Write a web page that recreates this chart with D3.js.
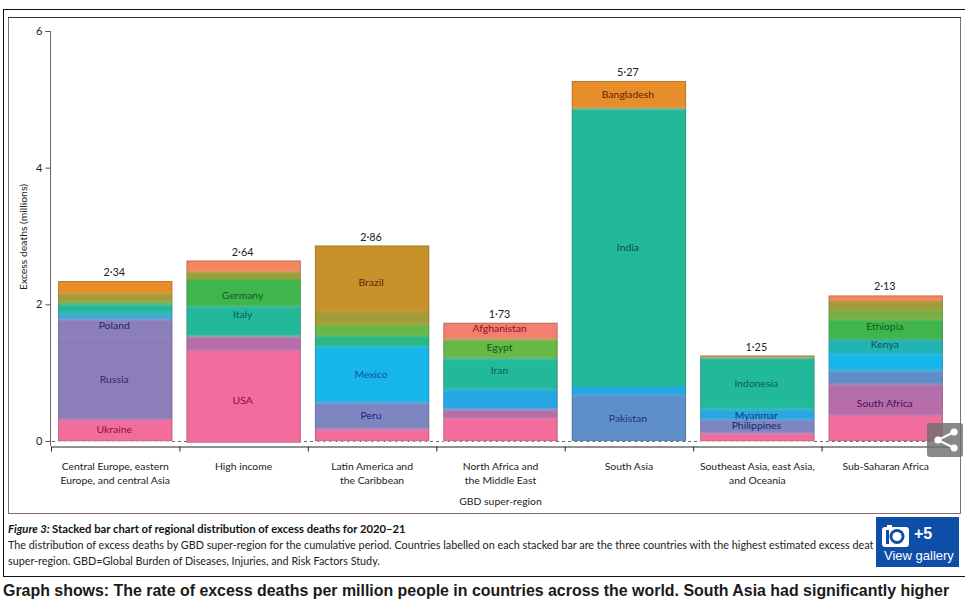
<!DOCTYPE html>
<html><head><meta charset="utf-8">
<script src="https://cdn.jsdelivr.net/npm/d3@7/dist/d3.min.js"></script>
<style>html,body{margin:0;padding:0;background:#fff;overflow:hidden}svg{display:block}</style>
</head><body><svg id="c" width="965" height="605"></svg>
<script>
const categories = [["Central Europe, eastern","Europe, and central Asia"],["High income"],["Latin America and","the Caribbean"],["North Africa and","the Middle East"],["South Asia"],["Southeast Asia, east Asia,","and Oceania"],["Sub-Saharan Africa"]];
const totals = [2.34,2.64,2.86,1.73,5.27,1.25,2.13];
const yTicks = [0,2,4,6];

// segment sizes, bottom to top (millions)
const centralEurope = [0.31,1.21,0.26,0.09,0.13,0.04,0.12,0.18];
const highIncome    = [1.32,0.21,0.44,0.40,0.11,0.16];
const latinAmerica  = [0.17,0.39,0.82,0.16,0.16,0.19,0.97];
const northAfrica   = [0.33,0.13,0.29,0.46,0.28,0.24];
const southAsia     = [0.67,0.12,4.08,0.40];
const southeastAsia = [0.11,0.20,0.15,0.76,0.02,0.01];
const subSaharan    = [0.37,0.46,0.20,0.24,0.21,0.30,0.15,0.12,0.08];
const segments = [centralEurope,highIncome,latinAmerica,northAfrica,southAsia,southeastAsia,subSaharan];

const centralLabels = ["Ukraine","Russia","Poland","","","","",""];
const highLabels    = ["USA","","Italy","Germany","",""];
const latinLabels   = ["","Peru","Mexico","","","","Brazil"];
const naLabels      = ["","","","Iran","Egypt","Afghanistan"];
const saLabels      = ["Pakistan","","India","Bangladesh"];
const seaLabels     = ["","Philippines","Myanmar","Indonesia","",""];
const ssaLabels     = ["","South Africa","","","Kenya","Ethiopia","","",""];
const segmentLabels = [centralLabels,highLabels,latinLabels,naLabels,saLabels,seaLabels,ssaLabels];

const P="#f26c9d",M="#b56ea9",V="#8c7fb9",W="#7e86c1",S="#5f8fc8",B="#27a7e3",C="#14b5ea",T="#23b99b",TG="#2bb685",G="#3fb54c",LG="#68b845",O="#a29b38",OB="#c8912a",OR="#e78e2b",CO="#f5845f",SA="#f47e70";
const palette = [
 [P,V,V,"#3aa9d8",T,"#62b050","#a89a38",OR],
 [P,M,T,G,"#9aa03a",CO],
 [P,W,C,TG,LG,O,OB],
 [P,M,B,T,LG,SA],
 [S,B,T,OR],
 [P,W,B,T,O,OR],
 [P,M,S,C,"#21b3b5",G,"#7cae42",O,CO]
];
const labelInk = {Ukraine:"#8f0f47",Russia:"#33256a",Poland:"#25256a",USA:"#80103a",Italy:"#0b5f52",Germany:"#0c5f27",Peru:"#1a2572",Mexico:"#135694",Brazil:"#5f280a",Iran:"#0b6357",Egypt:"#0b5f1e",Afghanistan:"#8f1212",Pakistan:"#1a3572",India:"#0a5043",Bangladesh:"#5f2508",Philippines:"#1a2572",Myanmar:"#163482",Indonesia:"#0b5f56","South Africa":"#500d58",Kenya:"#0b5258",Ethiopia:"#0b5f1e"};
const labelNudge = {Poland:-3,Italy:-7,Germany:3,Iran:-4,Egypt:-1,Afghanistan:-3,Ethiopia:-3,Kenya:-3,Myanmar:1,Philippines:-1,Ukraine:-1,USA:4,Peru:-1,Brazil:4,"South Africa":3,Russia:1};

const FONT='Lato, "Open Sans", sans-serif';
const SMALL=10.4;
const svg=d3.select("#c");
const y=d3.scaleLinear().domain([0,6]).range([441,31]);
const x=d3.scaleBand().domain(d3.range(categories.length)).range([51,950]).paddingInner(.11).paddingOuter(.055);
const xEdges=d3.scaleLinear().domain([0,categories.length]).range([51,950]);

// squeeze a text horizontally to a set width, from its left end
function fitWidth(sel,left,base,width){
  const natural=sel.node().getComputedTextLength();
  sel.attr("transform",`translate(${left},${base}) scale(${width/natural},1)`);
}

// frames
svg.append("rect").attr("x",3.5).attr("y",9.5).attr("width",970).attr("height",567).attr("fill","#fff").attr("stroke","#111");
svg.append("rect").attr("x",8.5).attr("y",17.5).attr("width",952).attr("height",496).attr("fill","#fff").attr("stroke","#8b6b72");
svg.append("line").attr("x1",8).attr("x2",961).attr("y1",17.5).attr("y2",17.5).attr("stroke","#333");

const defs=svg.append("defs");
defs.append("filter").attr("id","soft").attr("x","-2%").attr("y","-2%").attr("width","104%").attr("height","104%")
  .append("feGaussianBlur").attr("stdDeviation",1.2);

// dotted zero line, beneath the bars
svg.append("line").attr("x1",46).attr("x2",950).attr("y1",y(0)+.5).attr("y2",y(0)+.5)
  .attr("stroke","#666").attr("stroke-width",1.1).attr("stroke-dasharray","3 3");

// bars
const barG=svg.append("g");
segments.forEach((vals,i)=>{
  const stacked=d3.stack().keys(d3.range(vals.length))([vals]);
  const g=barG.append("g");
  const clipId="clip"+i;
  defs.append("clipPath").attr("id",clipId).append("rect").attr("x",x(i)).attr("width",x.bandwidth()).attr("y",y(totals[i])).attr("height",y(0)-y(totals[i])+(i==1?1.5:0));
  g.attr("clip-path",`url(#${clipId})`).append("g").attr("filter","url(#soft)")
   .selectAll("rect").data(stacked).join("rect")
   .attr("x",x(i)-4).attr("width",x.bandwidth()+8)
   .attr("y",(d,k)=>y(d[0][1])-(k==vals.length-1?4:0)).attr("height",(d,k)=>y(d[0][0])-y(d[0][1])+(k==0||k==vals.length-1?4:0))
   .attr("fill",(d,k)=>palette[i][k]);
  barG.append("rect").attr("x",x(i)+.5).attr("width",x.bandwidth()-1).attr("y",y(totals[i])+.5)
   .attr("height",y(0)-y(totals[i])-.5+(i==1?1.5:0)).attr("fill","none").attr("stroke","#555").attr("stroke-opacity",.35);
  if(i!=1) barG.append("line").attr("x1",x(i)).attr("x2",x(i)+x.bandwidth()).attr("y1",y(0)+.5).attr("y2",y(0)+.5)
   .attr("stroke","#fff").attr("stroke-opacity",.7).attr("stroke-dasharray","3 3");
});

// axes
const yAxis=d3.axisLeft(y).tickValues(yTicks).tickSize(5).tickPadding(3).tickFormat(d3.format("d"));
const gy=svg.append("g").attr("transform","translate(50.5,0)").call(yAxis);
gy.select(".domain").attr("stroke","#666").attr("d","M-5,31.5H0V446");
gy.selectAll(".tick line").attr("stroke","#555");
gy.selectAll("text").attr("font-family",FONT).attr("font-size",11).attr("fill","#222");
const xAxis=d3.axisBottom(xEdges).tickValues(d3.range(categories.length+1)).tickSize(5).tickSizeOuter(0).tickFormat("");
const gx=svg.append("g").attr("transform","translate(0,446.5)").call(xAxis);
gx.select(".domain").attr("stroke","#222");
gx.selectAll(".tick line").attr("stroke","#222");

// totals
svg.append("g").selectAll("text").data(totals).join("text")
  .attr("x",(d,i)=>x(i)+x.bandwidth()/2-1).attr("y",d=>y(d)-5).attr("text-anchor","middle")
  .attr("font-family",FONT).attr("font-size",10.8).attr("fill","#222")
  .text(d=>d3.format(".2f")(d).replace(".","·"));

// country labels
segments.forEach((vals,i)=>{
  let acc=0;
  vals.forEach((v,k)=>{
    const name=segmentLabels[i][k];
    if(name){
      svg.append("text").attr("x",x(i)+x.bandwidth()/2-1).attr("y",y(acc+v/2)+(labelNudge[name]||0))
       .attr("dy","0.35em").attr("text-anchor","middle").attr("font-family",FONT).attr("font-size",SMALL)
       .attr("fill",labelInk[name]).text(name);
    }
    acc+=v;
  });
});

// category labels
categories.forEach((lines,i)=>{
  lines.forEach((t,j)=>svg.append("text").attr("x",x(i)+x.bandwidth()/2).attr("y",470+j*14)
    .attr("text-anchor","middle").attr("font-family",FONT).attr("font-size",SMALL).attr("fill","#222").text(t));
});
svg.append("text").attr("x",xEdges(3.5)).attr("y",505).attr("text-anchor","middle").attr("font-family",FONT).attr("font-size",SMALL).attr("fill","#222").text("GBD super-region");
svg.append("text").attr("transform","translate(27,237) rotate(-90)").attr("text-anchor","middle").attr("font-family",FONT).attr("font-size",SMALL).attr("fill","#222").text("Excess deaths (millions)");

// caption
const cap=svg.append("text").attr("font-family",FONT).attr("font-size",12).attr("fill","#111");
cap.append("tspan").attr("font-style","italic").attr("font-weight",700).text("Figure 3: ");
cap.append("tspan").attr("font-weight",700).text("Stacked bar chart of regional distribution of excess deaths for 2020–21");
fitWidth(cap,8,533,398);
const cap2=svg.append("text").attr("font-family",FONT).attr("font-size",11.8).attr("fill","#222")
 .text("The distribution of excess deaths by GBD super-region for the cumulative period. Countries labelled on each stacked bar are the three countries with the highest estimated excess deat");
fitWidth(cap2,8,549,866);
const cap3=svg.append("text").attr("font-family",FONT).attr("font-size",11.8).attr("fill","#222")
 .text("super-region. GBD=Global Burden of Diseases, Injuries, and Risk Factors Study.");
fitWidth(cap3,8,565,372);

// gallery button
const gb=svg.append("g");
gb.append("rect").attr("x",876).attr("y",517).attr("width",83).attr("height",50).attr("fill","#0f4ea8");
gb.append("path").attr("d","M885 527h2v-2h5v2h14a3 3 0 0 1 3 3v14a3 3 0 0 1-3 3h-21a3 3 0 0 1-3-3v-14a3 3 0 0 1 3-3z").attr("fill","#fff");
gb.append("circle").attr("cx",897).attr("cy",536.5).attr("r",7.5).attr("fill","#0f4ea8");
gb.append("circle").attr("cx",897).attr("cy",536.5).attr("r",4.6).attr("fill","#fff");
gb.append("rect").attr("x",886).attr("y",530).attr("width",3).attr("height",14).attr("fill","#0f4ea8");
gb.append("text").attr("x",914).attr("y",539).attr("font-family","'Liberation Sans',Arial,sans-serif").attr("font-weight",700).attr("font-size",16).attr("fill","#fff").text("+5");
gb.append("text").attr("x",884).attr("y",560).attr("font-family","'Liberation Sans',Arial,sans-serif").attr("font-size",13).attr("fill","#fff").text("View gallery");

// share button
const sb=svg.append("g");
sb.append("rect").attr("x",927).attr("y",423).attr("width",36).attr("height",34).attr("rx",3).attr("fill","#6f6f6f").attr("fill-opacity",.82);
sb.append("path").attr("d","M954 432L938 440L954 448").attr("fill","none").attr("stroke","#fff").attr("stroke-width",2);
[[954,432],[938,440],[954,448]].forEach(p=>sb.append("circle").attr("cx",p[0]).attr("cy",p[1]).attr("r",3.6).attr("fill","#fff"));

// footer headline
const foot=svg.append("text").attr("font-family","'Liberation Sans',Arial,sans-serif").attr("font-weight",700).attr("font-size",16).attr("fill","#1a1a1a")
 .text("Graph shows: The rate of excess deaths per million people in countries across the world. South Asia had significantly higher");
fitWidth(foot,3,596,947);
</script></body></html>
